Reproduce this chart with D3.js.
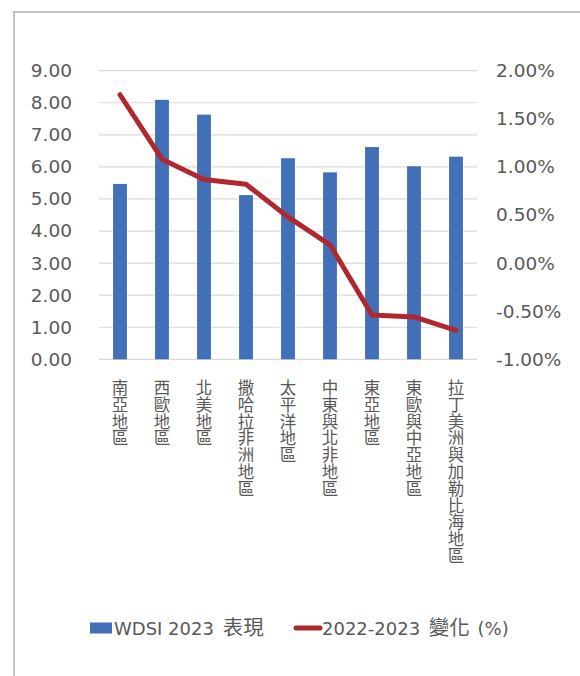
<!DOCTYPE html>
<html>
<head>
<meta charset="utf-8">
<script src="https://cdn.jsdelivr.net/npm/d3@7"></script>
<style>
html,body{margin:0;padding:0;background:#fff;}
svg{display:block;}
</style>
</head>
<body>
<svg id="chart" width="580" height="676"></svg>
<script>
const categories = ["南亞地區","西歐地區","北美地區","撒哈拉非洲地區","太平洋地區","中東與北非地區","東亞地區","東歐與中亞地區","拉丁美洲與加勒比海地區"];
const wdsi2023 = [5.47, 8.09, 7.63, 5.12, 6.27, 5.83, 6.62, 6.02, 6.32];
const change2223 = [1.75, 1.08, 0.87, 0.82, 0.48, 0.19, -0.54, -0.56, -0.70];
const leftTicks = [0,1,2,3,4,5,6,7,8,9];
const rightTicks = [-1.0,-0.5,0,0.5,1.0,1.5,2.0];
const legendParts = [["WDSI 2023 ","表現",""],["2022-2023 ","變化"," (%)"]];

(function(){
const svg = d3.select("#chart");
const barColor = "#4170B9", lineColor = "#B0282F", textColor = "#595959";
const latin = "'DejaVu Sans', Verdana, sans-serif";
const cjk = "'Noto Sans CJK TC', 'Noto Sans CJK SC', sans-serif";

// frame
svg.append("rect").attr("x",14).attr("y",12).attr("width",600).attr("height",700)
  .attr("fill","none").attr("stroke","#C3C3C3").attr("stroke-width",2);

const pL = 99, pR = 477, pT = 70.7, pB = 359.3;
const x = d3.scaleBand().domain(categories).range([pL,pR]).paddingInner(0).paddingOuter(0);
const yL = d3.scaleLinear().domain([0,9]).range([pB,pT]);
const yR = d3.scaleLinear().domain([-1,2]).range([pB,pT]);

// gridlines
svg.append("g").selectAll("line").data(leftTicks).join("line")
  .attr("x1",pL).attr("x2",pR)
  .attr("y1",d=>yL(d)).attr("y2",d=>yL(d))
  .attr("stroke","#D9D9D9").attr("stroke-width",1.2);

// left axis
const axL = svg.append("g").attr("transform",`translate(${pL},0)`)
  .call(d3.axisLeft(yL).tickValues(leftTicks).tickFormat(d3.format(".2f")).tickSize(0).tickPadding(27));
axL.select(".domain").remove();
axL.selectAll("text").attr("fill",textColor).attr("font-family",latin).attr("font-size","18.5px");

// right axis
const fmtR = d => d3.format(".2f")(d).replace("\u2212","-") + "%";
const axR = svg.append("g").attr("transform",`translate(${pR},0)`)
  .call(d3.axisRight(yR).tickValues(rightTicks).tickFormat(fmtR).tickSize(0).tickPadding(19));
axR.select(".domain").remove();
axR.selectAll("text").attr("fill",textColor).attr("font-family",latin).attr("font-size","18.5px");

// bars
const bw = x.bandwidth()*0.33;
svg.append("g").selectAll("rect").data(categories).join("rect")
  .attr("x",(d)=>x(d)+x.bandwidth()/2-bw/2)
  .attr("width",bw)
  .attr("y",(d,i)=>yL(wdsi2023[i]))
  .attr("height",(d,i)=>yL(0)-yL(wdsi2023[i]))
  .attr("fill",barColor);

// line
const line = d3.line().x((d,i)=>x(categories[i])+x.bandwidth()/2).y(d=>yR(d));
svg.append("path").datum(change2223).attr("d",line)
  .attr("fill","none").attr("stroke",lineColor).attr("stroke-width",5)
  .attr("stroke-linejoin","round").attr("stroke-linecap","round");

// category labels (vertical, one glyph per row)
const step = 16.8;
const lab = svg.append("g");
categories.forEach(c=>{
  const cx = x(c)+x.bandwidth()/2;
  Array.from(c).forEach((ch,j)=>{
    lab.append("text").attr("x",cx).attr("y",394+j*step)
      .attr("text-anchor","middle")
      .attr("font-family",cjk).attr("font-size","16.5px").attr("fill",textColor)
      .text(ch);
  });
});

// legend
const ly = 628;
const lg = svg.append("g");
lg.append("rect").attr("x",90).attr("y",ly-5.5).attr("width",22).attr("height",11).attr("fill",barColor);
lg.append("line").attr("x1",296).attr("x2",320).attr("y1",ly).attr("y2",ly)
  .attr("stroke",lineColor).attr("stroke-width",5).attr("stroke-linecap","round");
[114, 322].forEach((lx,k)=>{
  const t = lg.append("text").attr("x",lx).attr("y",ly+6.5)
    .attr("font-family",latin).attr("font-size","18px").attr("fill",textColor);
  t.append("tspan").text(legendParts[k][0]);
  t.append("tspan").attr("dx",3).attr("font-family",cjk).attr("font-size","20.5px").text(legendParts[k][1]);
  if (legendParts[k][2]) t.append("tspan").attr("dx",2).text(legendParts[k][2]);
});
})();
</script>
</body>
</html>
